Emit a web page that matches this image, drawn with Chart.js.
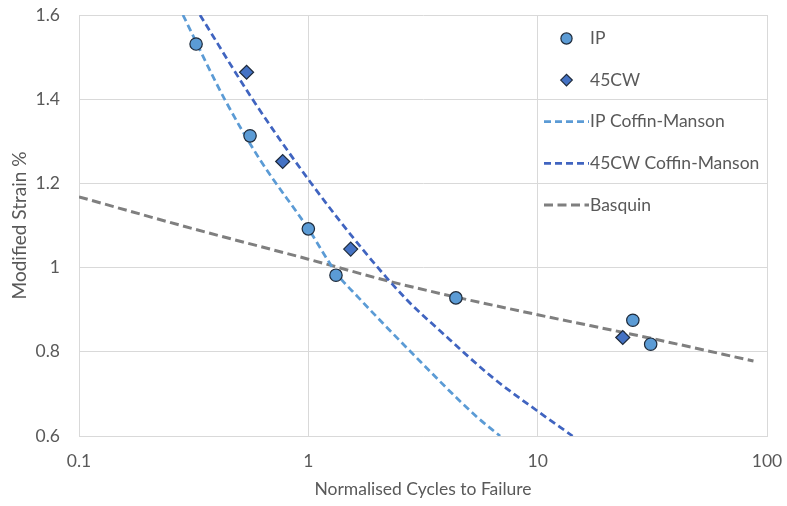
<!DOCTYPE html>
<html>
<head>
<meta charset="utf-8">
<script src="https://cdn.jsdelivr.net/npm/chart.js@4/dist/chart.umd.min.js"></script>
<style>
html,body{margin:0;padding:0;background:#ffffff;}
#wrap{width:787px;height:506px;position:relative;}
</style>
</head>
<body>
<div id="wrap"><canvas id="c" width="787" height="506"></canvas></div>
<script>
// ---- data ----
const seriesLabels = ['IP', '45CW', 'IP Coffin-Manson', '45CW Coffin-Manson', 'Basquin'];
const xTitle = 'Normalised Cycles to Failure';
const yTitle = 'Modified Strain %';
const xTicks = [0.1, 1, 10, 100];
const yTicks = [0.6, 0.8, 1.0, 1.2, 1.4, 1.6];

const ipCycles = [0.324, 0.557, 1.0, 1.32, 4.40, 26.0, 31.1];
const ipStrain = [1.531, 1.313, 1.092, 0.982, 0.928, 0.875, 0.818];

const cwCycles = [0.538, 0.773, 1.53, 23.5];
const cwStrain = [1.464, 1.252, 1.044, 0.834];

const ipFitCycles = [0.284, 0.4335, 0.616, 1.0, 1.334, 1.647, 2.75, 5.44, 6.86];
const ipFitStrain = [1.600, 1.398, 1.256, 1.092, 0.985, 0.930, 0.804, 0.645, 0.600];

const cwFitCycles = [0.337, 0.574, 1.027, 1.733, 2.694, 3.75, 6.39, 9.94, 14.2];
const cwFitStrain = [1.600, 1.398, 1.201, 1.042, 0.923, 0.850, 0.738, 0.660, 0.600];

const basqCycles = [0.1, 0.316, 1.0, 2.27, 4.4, 10.0, 30.0, 87.3];
const basqStrain = [1.168, 1.092, 1.020, 0.967, 0.930, 0.888, 0.834, 0.778];

// ---- styling ----
const FONT = 'Lato, "Open Sans", "Liberation Sans", sans-serif';
const FS = 17.5;
const TEXT = '#595959';
const GRID = '#d9d9d9';
const IP_FILL = '#5b9bd5';
const CW_FILL = '#4472c4';
const MARK_EDGE = '#1e2a3a';
const IP_LINE = '#5b9bd5';
const CW_LINE = '#4064c0';
const BASQ_LINE = '#7f7f7f';

function pts(xs, ys) { return xs.map((x, i) => ({ x: x, y: ys[i] })); }

const legendPlugin = {
  id: 'insideLegend',
  afterDatasetsDraw(chart) {
    const ctx = chart.ctx;
    const a = chart.chartArea;
    const lineX0 = a.right - 223, lineX1 = a.right - 178;
    const markX = (lineX0 + lineX1) / 2;
    const textX = a.right - 177;
    let y = a.top + 23.5;
    const step = 41.6;
    chart.data.datasets.forEach(ds => {
      ctx.save();
      if (ds.showLine) {
        ctx.strokeStyle = ds.borderColor;
        ctx.lineWidth = ds.borderWidth;
        ctx.setLineDash(ds.borderDash || []);
        ctx.beginPath();
        ctx.moveTo(lineX0, y);
        ctx.lineTo(lineX1, y);
        ctx.stroke();
      } else {
        ctx.fillStyle = ds.backgroundColor;
        ctx.strokeStyle = ds.borderColor;
        ctx.lineWidth = 1.2;
        ctx.beginPath();
        if (ds.pointStyle === 'rectRot') {
          const r = 5.8;
          ctx.moveTo(markX - r, y);
          ctx.lineTo(markX, y - r);
          ctx.lineTo(markX + r, y);
          ctx.lineTo(markX, y + r);
          ctx.closePath();
        } else {
          ctx.arc(markX, y, 5.6, 0, Math.PI * 2);
        }
        ctx.fill();
        ctx.stroke();
      }
      ctx.setLineDash([]);
      ctx.fillStyle = TEXT;
      ctx.font = FS + 'px ' + FONT;
      ctx.textBaseline = 'middle';
      ctx.textAlign = 'left';
      ctx.fillText(ds.label, textX, y);
      ctx.restore();
      y += step;
    });
  }
};

new Chart(document.getElementById('c'), {
  type: 'scatter',
  data: {
    datasets: [
      {
        label: seriesLabels[0], data: pts(ipCycles, ipStrain),
        pointStyle: 'circle', pointRadius: 6.2, borderWidth: 1.2,
        backgroundColor: IP_FILL, borderColor: MARK_EDGE
      },
      {
        label: seriesLabels[1], data: pts(cwCycles, cwStrain),
        pointStyle: 'rectRot', pointRadius: 7, borderWidth: 1.2,
        backgroundColor: CW_FILL, borderColor: MARK_EDGE
      },
      {
        label: seriesLabels[2], data: pts(ipFitCycles, ipFitStrain),
        showLine: true, pointRadius: 0, borderColor: IP_LINE, borderWidth: 2.75,
        borderDash: [7, 4], cubicInterpolationMode: 'monotone', backgroundColor: IP_LINE
      },
      {
        label: seriesLabels[3], data: pts(cwFitCycles, cwFitStrain),
        showLine: true, pointRadius: 0, borderColor: CW_LINE, borderWidth: 2.75,
        borderDash: [7, 4], cubicInterpolationMode: 'monotone', backgroundColor: CW_LINE
      },
      {
        label: seriesLabels[4], data: pts(basqCycles, basqStrain),
        showLine: true, pointRadius: 0, borderColor: BASQ_LINE, borderWidth: 3,
        borderDash: [9, 4.5], cubicInterpolationMode: 'monotone', backgroundColor: BASQ_LINE
      }
    ]
  },
  options: {
    responsive: false,
    animation: false,
    devicePixelRatio: 1,
    events: [],
    layout: { padding: { top: 15, right: 20, bottom: 0, left: 0 } },
    plugins: { legend: { display: false }, tooltip: { enabled: false } },
    scales: {
      x: {
        type: 'logarithmic', min: 0.1, max: 100,
        afterBuildTicks: s => { s.ticks = xTicks.map(v => ({ value: v })); },
        afterFit: s => { s.height = 70; s.paddingLeft = 0; s.paddingRight = 0; },
        ticks: {
          autoSkip: false, maxRotation: 0, padding: 15,
          font: { family: FONT, size: FS }, color: TEXT,
          callback: v => String(v)
        },
        grid: { color: GRID, lineWidth: 1, drawTicks: false },
        border: { color: GRID, width: 1 },
        title: {
          display: true, text: xTitle, color: TEXT,
          font: { family: FONT, size: FS }, padding: { top: 0, bottom: 6 }
        }
      },
      y: {
        min: 0.6, max: 1.6,
        afterBuildTicks: s => { s.ticks = yTicks.map(v => ({ value: v })); },
        afterFit: s => { s.width = 79; s.paddingTop = 0; s.paddingBottom = 0; },
        ticks: {
          padding: 19, font: { family: FONT, size: FS }, color: TEXT,
          callback: v => String(Math.round(v * 10) / 10)
        },
        grid: { color: GRID, lineWidth: 1, drawTicks: false },
        border: { color: GRID, width: 1 },
        title: {
          display: true, text: yTitle, color: TEXT,
          font: { family: FONT, size: 19 }, padding: { top: 8.5, bottom: 0 }
        }
      }
    }
  },
  plugins: [legendPlugin]
});
</script>
</body>
</html>
